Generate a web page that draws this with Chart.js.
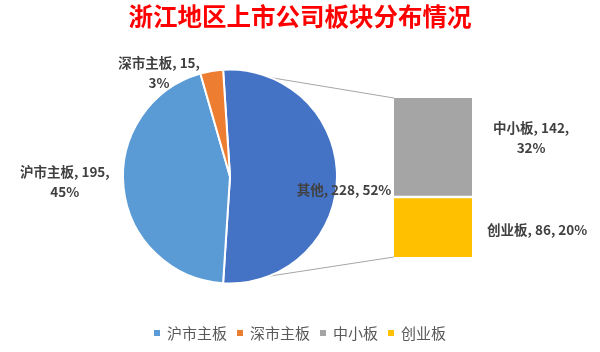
<!DOCTYPE html>
<html lang="zh-CN">
<head>
<meta charset="utf-8">
<title>浙江地区上市公司板块分布情况</title>
<script src="https://cdn.jsdelivr.net/npm/chart.js@4.4.1/dist/chart.umd.min.js"></script>
<style>
  html, body { margin: 0; padding: 0; background: #fff; }
  #wrap { position: relative; width: 600px; height: 352px; overflow: hidden; font-family: "Noto Sans CJK SC", sans-serif; }
  #pieBox { position: absolute; left: 0; top: 0; width: 600px; height: 352px; }
  #barBox { position: absolute; left: 394px; top: 98px; width: 78px; height: 159px; }
  #title { position: absolute; left: 0; top: 3px; width: 600px; text-align: center; font-size: 24.5px; font-weight: bold; line-height: 26px; color: #ff0000; }
  #legend { position: absolute; left: 0; top: 323px; width: 600px; display: flex; justify-content: center; font-size: 15px; line-height: 20px; color: #595959; }
  #legend .item { display: flex; align-items: center; margin: 0 5px; }
  #legend .box { width: 6px; height: 6px; margin-right: 7px; }
</style>
</head>
<body>
<div id="wrap">
  <div id="pieBox"><canvas id="pieChart"></canvas></div>
  <div id="barBox"><canvas id="barChart"></canvas></div>
  <div id="title">浙江地区上市公司板块分布情况</div>
  <div id="legend"></div>
</div>
<script>
// data
const pieLabels = ['沪市主板', '深市主板'];
const pieValues = [195, 15];
const barLabels = ['中小板', '创业板'];
const barValues = [142, 86];
const otherLabel = '其他';

// colours
const pieColors = ['#5B9BD5', '#ED7D31'];
const barColors = ['#A5A5A5', '#FFC000'];
const otherColor = '#4472C4';

const otherValue = barValues.reduce((a, b) => a + b, 0);
const total = otherValue + pieValues.reduce((a, b) => a + b, 0);
const pct = v => Math.round(v / total * 100) + '%';

// legend
const legendEl = document.getElementById('legend');
pieLabels.concat(barLabels).forEach((label, i) => {
    const color = pieColors.concat(barColors)[i];
    legendEl.innerHTML += `<span class="item"><span class="box" style="background:${color}"></span>${label}</span>`;
});

// stacked bar for the split-out part (first dataset sits at the bottom)
const barOrder = barLabels.map((l, i) => i).reverse();
const barChart = new Chart(document.getElementById('barChart'), {
    type: 'bar',
    data: {
        labels: [''],
        datasets: barOrder.map((i, k) => ({
            label: barLabels[i],
            data: [barValues[i]],
            backgroundColor: barColors[i],
            borderColor: '#ffffff',
            borderWidth: k === 0 ? {top: 1.5, bottom: 0, left: 0, right: 0} : {top: 0, bottom: 1.5, left: 0, right: 0},
            borderSkipped: false,
            barPercentage: 1,
            categoryPercentage: 1
        }))
    },
    options: {
        responsive: true,
        maintainAspectRatio: false,
        animation: false,
        layout: { padding: 0 },
        plugins: { legend: { display: false }, tooltip: { enabled: false } },
        scales: {
            x: { display: false, stacked: true },
            y: { display: false, stacked: true, min: 0, max: otherValue }
        }
    }
});

const LABEL_FONT = 'bold 13.5px "Noto Sans CJK SC", sans-serif';
const LINE_H = 20;

function drawBlock(ctx, lines, x, y, align) {
    ctx.font = LABEL_FONT;
    const w = Math.max(...lines.map(l => ctx.measureText(l).width));
    let cx = x;
    if (align === 'right') cx = x - w / 2;
    if (align === 'left') cx = x + w / 2;
    const top = y - (lines.length - 1) * LINE_H / 2;
    ctx.textAlign = 'center';
    ctx.textBaseline = 'middle';
    ctx.fillStyle = '#404040';
    lines.forEach((l, i) => ctx.fillText(l, cx, top + i * LINE_H));
}

function barRect(i) {
    const box = document.getElementById('barBox');
    const el = barChart.getDatasetMeta(barOrder.indexOf(i)).data[0];
    return {
        left: box.offsetLeft + el.x - el.width / 2,
        right: box.offsetLeft + el.x + el.width / 2,
        top: box.offsetTop + Math.min(el.y, el.base),
        bottom: box.offsetTop + Math.max(el.y, el.base)
    };
}

// label placement, per pie slice: distance past the rim, offsets, alignment
const piePlace = [
    { d: 0, ox: 7, oy: 13, align: 'center', wrap: false },   // 其他
    { d: 14, ox: 0, oy: -8, align: 'right', wrap: true },    // 沪市主板
    { d: 10, ox: -10, oy: 12, align: 'right', wrap: true }   // 深市主板
];
const barPlace = [
    { ox: 21, oy: -10, wrap: true },   // 中小板
    { ox: 15, oy: 3, wrap: false }     // 创业板
];

const pieOfBarPlugin = {
    id: 'pieOfBar',
    beforeDatasetsDraw(chart) {
        const arc = chart.getDatasetMeta(0).data[0];
        const ctx = chart.ctx;
        const top = barRect(0);
        const bottom = barRect(barLabels.length - 1);
        const p1 = [arc.x + arc.outerRadius * Math.cos(arc.startAngle), arc.y + arc.outerRadius * Math.sin(arc.startAngle)];
        const p2 = [arc.x + arc.outerRadius * Math.cos(arc.endAngle), arc.y + arc.outerRadius * Math.sin(arc.endAngle)];
        ctx.save();
        ctx.strokeStyle = '#A6A6A6';
        ctx.lineWidth = 1;
        ctx.beginPath();
        ctx.moveTo(p1[0], p1[1]);
        ctx.lineTo(top.left, top.top);
        ctx.moveTo(p2[0], p2[1]);
        ctx.lineTo(bottom.left, bottom.bottom);
        ctx.stroke();
        ctx.restore();
    },
    afterDatasetsDraw(chart) {
        const ctx = chart.ctx;
        const labels = chart.data.labels;
        const values = chart.data.datasets[0].data;
        ctx.save();
        chart.getDatasetMeta(0).data.forEach((arc, i) => {
            const o = piePlace[i];
            const mid = (arc.startAngle + arc.endAngle) / 2;
            const r = arc.outerRadius + o.d;
            const x = arc.x + r * Math.cos(mid) + o.ox;
            const y = arc.y + r * Math.sin(mid) + o.oy;
            const lines = o.wrap
                ? [`${labels[i]}, ${values[i]},`, pct(values[i])]
                : [`${labels[i]}, ${values[i]}, ${pct(values[i])}`];
            drawBlock(ctx, lines, x, y, o.align);
        });
        barLabels.forEach((label, i) => {
            const o = barPlace[i];
            const r = barRect(i);
            const lines = o.wrap
                ? [`${label}, ${barValues[i]},`, pct(barValues[i])]
                : [`${label}, ${barValues[i]}, ${pct(barValues[i])}`];
            drawBlock(ctx, lines, r.right + o.ox, (r.top + r.bottom) / 2 + o.oy, 'left');
        });
        ctx.restore();
    }
};

// other slice is centred on 3 o'clock, facing the bar
const otherShare = otherValue / total;
const pieChart = new Chart(document.getElementById('pieChart'), {
    type: 'pie',
    data: {
        labels: [otherLabel].concat(pieLabels),
        datasets: [{
            data: [otherValue].concat(pieValues),
            backgroundColor: [otherColor].concat(pieColors),
            borderColor: '#ffffff',
            borderWidth: 2
        }]
    },
    options: {
        responsive: true,
        maintainAspectRatio: false,
        animation: false,
        rotation: 90 - otherShare * 180,
        layout: { padding: { left: 122, right: 262, top: 68, bottom: 67 } },
        plugins: { legend: { display: false }, tooltip: { enabled: false } }
    },
    plugins: [pieOfBarPlugin]
});
</script>
</body>
</html>
